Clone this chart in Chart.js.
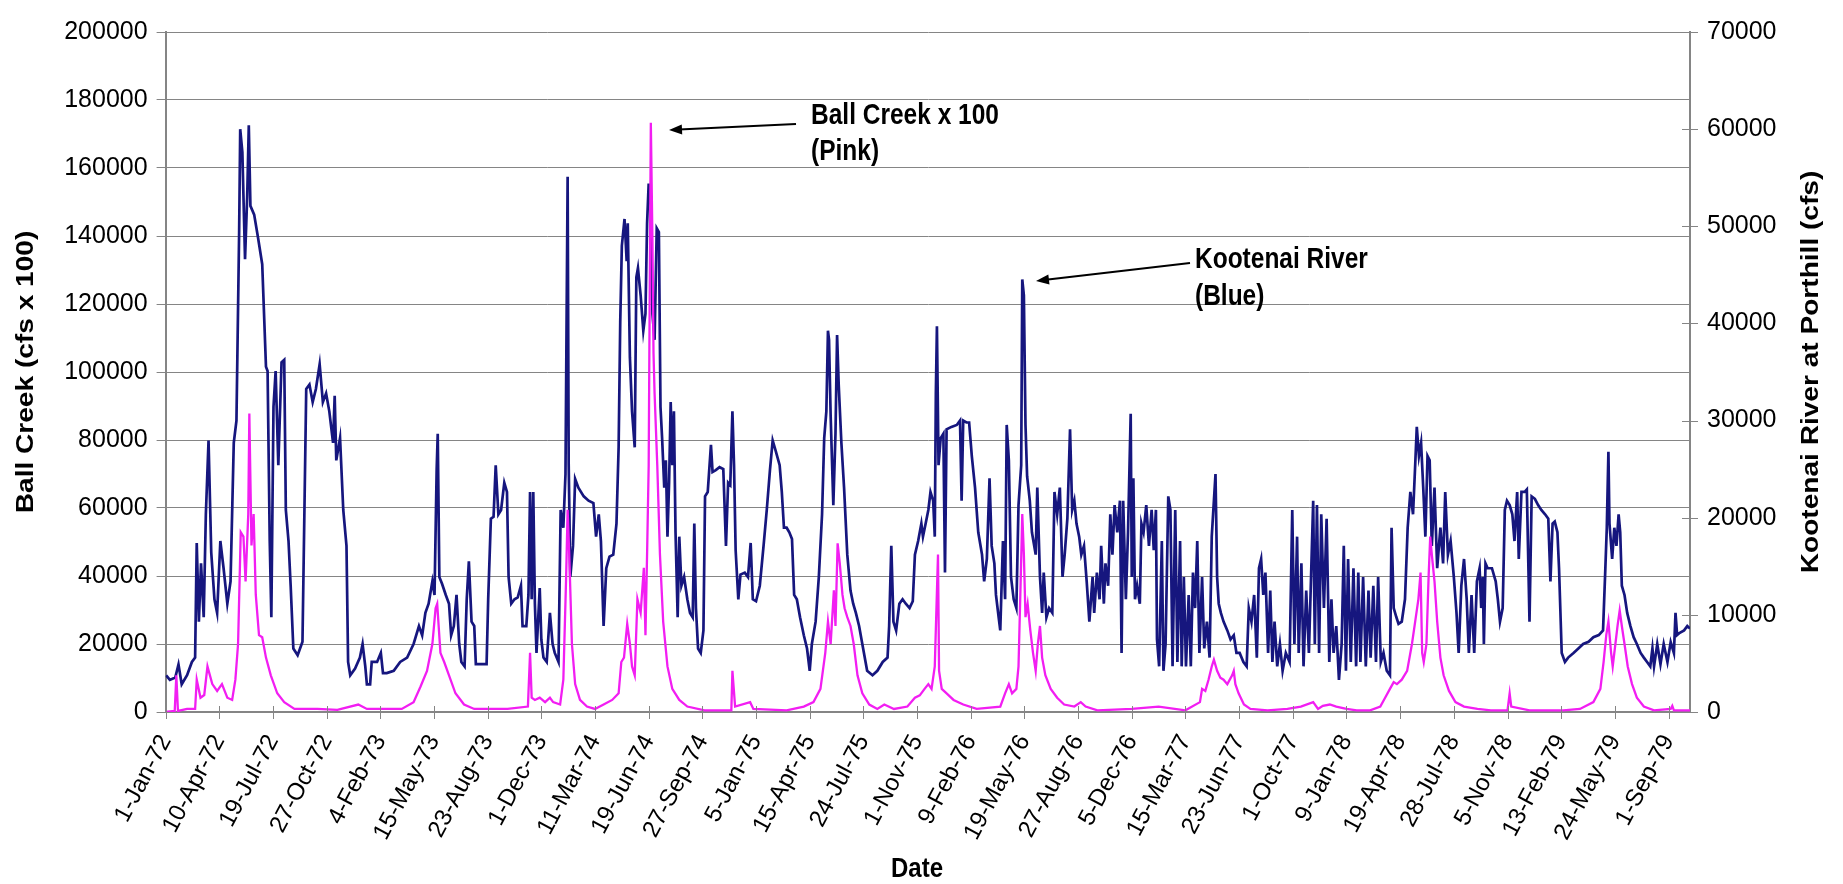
<!DOCTYPE html>
<html>
<head>
<meta charset="utf-8">
<script src="https://cdn.jsdelivr.net/npm/chart.js@4/dist/chart.umd.min.js"></script>
<style>
  html, body { margin: 0; padding: 0; background: #fff; }
  canvas { display: block; }
</style>
</head>
<body>
<canvas id="chart" width="1843" height="884"></canvas>
<script>
// Day 0 = 1-Jan-72, one label every 100 days
const dateLabels = [
  "1-Jan-72", "10-Apr-72", "19-Jul-72", "27-Oct-72", "4-Feb-73", "15-May-73", "23-Aug-73",
  "1-Dec-73", "11-Mar-74", "19-Jun-74", "27-Sep-74", "5-Jan-75", "15-Apr-75", "24-Jul-75",
  "1-Nov-75", "9-Feb-76", "19-May-76", "27-Aug-76", "5-Dec-76", "15-Mar-77", "23-Jun-77",
  "1-Oct-77", "9-Jan-78", "19-Apr-78", "28-Jul-78", "5-Nov-78", "13-Feb-79", "24-May-79", "1-Sep-79",
];
const lastDay = 2840;

// Kootenai River at Porthill, cfs (right axis) - [day, cfs]
const kootenai = [
  [1,3780],[8,3300],[18,3550],[24,4900],[30,2850],[40,3780],[49,5150],[55,5600],[58,17400],[62,9300],
  [66,15300],[71,9750],[75,20350],[80,27950],[85,16440],[91,11600],[96,10200],[102,17600],[108,14800],
  [115,11150],[121,13450],[127,27700],[132,30000],[137,49400],[139,60000],[143,57650],[148,46600],
  [152,53050],[155,60400],[158,52100],[165,51200],[172,48900],[180,46100],[187,35550],[190,35100],
  [194,17600],[197,9750],[201,31400],[205,35100],[210,25400],[216,36000],[221,36250],[224,20800],
  [229,17600],[233,13000],[238,6540],[246,5850],[255,7230],[262,33250],[268,33700],[274,31900],
  [280,33250],[287,35800],[293,31900],[299,32800],[305,30950],[312,27700],[315,32550],[318,25900],
  [325,28200],[331,20800],[337,17100],[340,5150],[344,3780],[353,4470],[362,5600],[367,7000],[372,4700],
  [375,2850],[381,2850],[384,5150],[394,5150],[401,6080],[405,4000],[412,4000],[425,4240],[437,5150],
  [450,5600],[462,7000],[472,8850],[478,7900],[484,10200],[490,11150],[497,13450],[501,12050],
  [505,24950],[507,28650],[510,13900],[515,13200],[522,12050],[528,11150],[532,7900],[537,8850],
  [542,12050],[547,7000],[551,5150],[557,4700],[561,11600],[565,15500],[570,9300],[575,8850],[578,4930],
  [587,4930],[598,4930],[601,11600],[606,19900],[611,20100],[615,25400],[620,20350],[625,20800],
  [631,23600],[636,22650],[639,13900],[644,11150],[650,11600],[656,11800],[662,13000],[665,8850],
  [672,8850],[676,12050],[679,22650],[682,11600],[685,22650],[688,11150],[691,6080],[697,12750],
  [700,7460],[704,5600],[710,5150],[716,10200],[721,7000],[725,6080],[732,5150],[736,20800],[741,18970],
  [745,24500],[749,55100],[751,25400],[754,13900],[759,17100],[763,24000],[769,23100],[779,22200],
  [788,21750],[797,21500],[802,18050],[807,20350],[811,17600],[816,8850],[821,14800],[827,16000],
  [834,16200],[840,19400],[844,27250],[847,40150],[850,48000],[855,50750],[859,46400],[861,50300],
  [865,36500],[869,30950],[874,27250],[877,44750],[880,45700],[885,42900],[890,39250],[894,41000],
  [897,50300],[900,54400],[904,52100],[907,41000],[911,38300],[915,49800],[919,49400],[922,31400],
  [925,28200],[929,23100],[932,25900],[935,18050],[938,23600],[941,31900],[944,25400],[947,30950],
  [950,18500],[954,9750],[957,18050],[961,13000],[966,13900],[972,11600],[977,10200],[982,9750],
  [985,19400],[988,10700],[992,6540],[997,6080],[1002,8400],[1005,22200],[1010,22650],[1016,27500],
  [1019,24700],[1025,24900],[1032,25200],[1039,25000],[1044,17100],[1048,23600],[1052,23350],
  [1056,30950],[1059,25400],[1062,16650],[1067,11600],[1071,14150],[1079,14350],[1085,13900],
  [1090,17400],[1094,11600],[1100,11400],[1107,13000],[1114,17100],[1120,20800],[1126,24950],
  [1131,27950],[1137,26800],[1144,25400],[1148,22650],[1152,18970],[1157,18970],[1162,18500],
  [1167,17800],[1171,12050],[1176,11600],[1182,9750],[1189,7900],[1195,6540],[1200,4240],[1204,7000],
  [1211,9300],[1217,13900],[1223,20350],[1227,28200],[1231,30950],[1234,39250],[1236,38300],
  [1239,30500],[1244,21300],[1248,28650],[1251,38800],[1254,33700],[1259,27700],[1264,23100],
  [1270,16200],[1276,12500],[1281,11150],[1286,10200],[1292,8850],[1298,7000],[1307,4240],[1317,3780],
  [1326,4240],[1336,5150],[1345,5600],[1348,8850],[1352,17100],[1356,9300],[1361,8400],[1367,11150],
  [1373,11600],[1379,11150],[1386,10700],[1392,11400],[1396,16200],[1402,17600],[1408,19400],
  [1411,18050],[1416,19400],[1421,20800],[1425,22650],[1430,21750],[1433,18050],[1435,32800],
  [1437,39700],[1440,25400],[1444,28200],[1449,28650],[1452,14350],[1455,29100],[1464,29350],
  [1474,29550],[1480,30000],[1483,21750],[1486,30000],[1492,29800],[1497,29800],[1502,26350],
  [1508,23100],[1514,18500],[1521,16200],[1525,13450],[1530,15750],[1535,24050],[1539,17100],
  [1544,15300],[1547,12050],[1552,9750],[1555,8400],[1560,17600],[1564,11600],[1567,29550],
  [1571,25900],[1575,13900],[1580,11600],[1585,10700],[1589,21300],[1594,25400],[1596,44530],
  [1599,42900],[1602,29550],[1605,24270],[1610,21750],[1614,18500],[1621,16200],[1624,23100],
  [1629,13900],[1633,10200],[1636,14350],[1641,9750],[1646,10700],[1652,10200],[1656,22650],
  [1661,20350],[1666,23100],[1671,13900],[1675,16200],[1680,19900],[1685,29100],[1689,20800],
  [1693,21750],[1697,19400],[1702,18050],[1706,16200],[1711,17100],[1716,13450],[1721,9300],
  [1724,11600],[1727,13900],[1730,10200],[1735,14350],[1740,11600],[1743,17100],[1748,11150],
  [1751,15300],[1756,13000],[1760,20350],[1764,16200],[1768,21300],[1773,18500],[1778,21750],
  [1781,6080],[1784,21750],[1789,11600],[1793,18500],[1798,30700],[1800,13900],[1803,24050],
  [1806,11600],[1810,13000],[1815,11150],[1818,19400],[1822,18500],[1827,21300],[1832,17100],
  [1837,20800],[1841,16650],[1845,20800],[1847,7460],[1851,4700],[1856,17600],[1859,4240],[1863,7000],
  [1868,22200],[1872,20800],[1876,4700],[1881,20800],[1885,5150],[1890,17600],[1893,4700],[1897,13900],
  [1901,4700],[1906,12050],[1910,4700],[1914,14350],[1918,10700],[1922,17600],[1926,6080],[1931,13900],
  [1935,6540],[1940,9300],[1945,5600],[1949,18050],[1953,21750],[1956,24500],[1959,13900],[1962,11150],
  [1966,10200],[1971,9300],[1978,8400],[1984,7460],[1990,7900],[1995,6080],[2001,6080],[2008,5150],
  [2014,4700],[2018,10700],[2023,9300],[2028,12050],[2033,5600],[2037,14800],[2041,15750],[2045,12050],
  [2049,14350],[2054,6080],[2058,12500],[2062,5150],[2066,9300],[2071,4700],[2076,7000],[2081,4240],
  [2087,6080],[2094,5150],[2099,20800],[2103,7000],[2108,18050],[2111,6080],[2116,15300],[2120,4700],
  [2125,12500],[2130,6080],[2134,13900],[2138,21750],[2141,7000],[2145,21300],[2149,6080],[2153,20350],
  [2158,10700],[2163,19900],[2168,5150],[2172,11600],[2176,6080],[2181,8850],[2186,3300],[2191,7000],
  [2195,17100],[2199,4240],[2203,15750],[2208,5150],[2213,14800],[2218,4700],[2222,14350],[2226,5150],
  [2231,13900],[2236,4700],[2241,12500],[2245,5600],[2250,13000],[2255,5150],[2259,13900],[2264,5150],
  [2269,6080],[2275,4240],[2281,3780],[2284,18970],[2288,10700],[2293,9750],[2297,9070],[2303,9300],
  [2309,11600],[2314,18970],[2319,22650],[2324,20350],[2328,25400],[2331,29350],[2335,26350],
  [2339,27700],[2343,23100],[2347,18050],[2351,26350],[2355,25900],[2359,17100],[2364,23100],
  [2369,14800],[2375,18970],[2380,15300],[2384,22650],[2389,16200],[2394,17600],[2400,13900],
  [2405,10200],[2409,6080],[2414,13000],[2419,15750],[2424,11600],[2428,6080],[2433,12050],[2438,6080],
  [2443,13450],[2448,14800],[2451,10700],[2454,13900],[2456,7000],[2459,15300],[2463,14800],[2471,14800],
  [2478,13450],[2482,11600],[2486,9300],[2491,10700],[2495,20800],[2499,21750],[2504,21300],[2509,20350],
  [2513,17600],[2518,22650],[2521,15750],[2526,22650],[2532,22650],[2536,22900],[2541,9300],[2545,22200],
  [2551,21950],[2557,21300],[2563,20800],[2570,20350],[2576,19900],[2580,13450],[2584,19400],[2588,19600],
  [2593,18500],[2596,14800],[2601,6080],[2607,5150],[2613,5600],[2623,6080],[2632,6540],[2641,7000],
  [2651,7230],[2660,7700],[2670,7920],[2678,8400],[2682,14350],[2685,18970],[2688,26800],[2690,19400],
  [2695,15750],[2699,18970],[2703,17100],[2707,20350],[2710,18500],[2713,13000],[2718,12050],
  [2723,10200],[2729,8850],[2735,7700],[2741,7000],[2748,6080],[2754,5600],[2760,5150],[2766,4700],
  [2770,6540],[2773,4700],[2779,7000],[2785,4930],[2791,7000],[2798,5150],[2804,7200],[2810,6080],
  [2813,10200],[2816,7920],[2821,8150],[2829,8400],[2835,8850],[2840,8600],
];

// Ball Creek, cfs x 100 (left axis) - [day, value]
const ballCreek = [
  [0,0],[17,300],[20,10800],[23,300],[40,900],[55,900],[58,9500],[65,4200],[72,5000],[78,13400],
  [87,8200],[96,6200],[105,8200],[115,4200],[124,3550],[130,9500],[135,20000],[140,52900],[145,51600],
  [149,38400],[154,58200],[156,87800],[160,49000],[164,58200],[168,34500],[174,22600],[180,22000],
  [187,16000],[196,10800],[208,5500],[221,2900],[240,900],[283,900],[320,600],[359,2200],[375,900],
  [440,900],[462,2900],[475,7500],[487,12100],[497,20000],[503,30500],[506,31800],[512,17400],
  [519,14700],[528,10800],[540,5500],[556,2200],[575,900],[637,900],[675,1600],[679,17400],[682,4200],
  [688,3550],[697,4200],[707,2900],[716,4200],[722,2900],[735,2200],[741,9500],[746,38400],[749,59500],
  [752,46300],[757,20000],[763,8200],[772,3550],[785,1600],[800,900],[816,2200],[832,3550],[844,5500],
  [849,14700],[854,16000],[860,25900],[865,20000],[869,13400],[874,10800],[879,33200],[885,29200],
  [891,42400],[894,22600],[897,46300],[900,72600],[902,125300],[904,173300],[907,138400],[909,105500],
  [911,93700],[916,72600],[921,46300],[927,26600],[935,13400],[944,6800],[957,3550],[972,1600],
  [1004,500],[1054,500],[1056,12100],[1061,1600],[1089,2900],[1095,900],[1157,500],[1189,1600],
  [1207,2900],[1220,6800],[1229,17400],[1234,26600],[1239,20000],[1245,35800],[1248,25300],
  [1252,49600],[1256,43700],[1261,34500],[1265,30500],[1270,27900],[1276,25300],[1282,20000],
  [1289,10800],[1298,5500],[1311,2200],[1326,900],[1339,2200],[1357,900],[1382,1600],[1396,4200],
  [1405,4900],[1414,6800],[1421,8200],[1427,6800],[1433,13400],[1436,30000],[1439,46300],[1441,12100],
  [1446,6800],[1455,5500],[1468,3550],[1486,2200],[1511,900],[1555,1600],[1564,5500],[1571,8200],
  [1577,5500],[1585,6800],[1589,13400],[1593,38400],[1596,58200],[1599,46300],[1602,27900],
  [1606,31800],[1611,24000],[1616,17400],[1621,12100],[1625,20000],[1629,25300],[1633,16000],
  [1639,10800],[1649,6800],[1661,4200],[1674,2200],[1693,1600],[1705,2900],[1714,1600],[1736,500],
  [1800,900],[1850,1600],[1900,500],[1927,2900],[1931,6800],[1937,6200],[1943,9500],[1949,13400],
  [1953,15400],[1959,12100],[1965,10100],[1971,9500],[1978,8200],[1987,10800],[1990,12100],[1993,8200],
  [1999,5500],[2009,2200],[2021,900],[2053,500],[2090,900],[2115,1600],[2138,2900],[2147,900],
  [2156,1840],[2169,2200],[2181,1600],[2200,900],[2219,500],[2244,500],[2263,1600],[2272,4200],
  [2281,6800],[2288,8800],[2294,8200],[2303,9500],[2313,12100],[2322,20000],[2328,26600],[2334,33200],
  [2338,41000],[2341,17400],[2344,14700],[2349,20000],[2353,39700],[2356,51600],[2359,46300],
  [2364,38400],[2369,26600],[2375,16000],[2381,10800],[2391,6200],[2403,2900],[2419,1600],[2444,900],
  [2469,500],[2500,500],[2504,5500],[2507,1600],[2541,500],[2604,500],[2635,900],[2660,2900],
  [2673,6800],[2679,14700],[2684,22600],[2688,26600],[2693,17400],[2696,13400],[2701,20000],
  [2705,25300],[2709,29900],[2713,25300],[2718,20000],[2724,13400],[2732,8200],[2741,4200],[2754,1600],
  [2773,500],[2804,900],[2807,1800],[2810,500],[2840,500],
];

const FONT = "'Liberation Sans', Arial, sans-serif";
const GRID = "#858585";
const STRETCH = 1.17; // the picture is a little taller than the original chart

const toPoints = (pairs) => pairs.map(([x, y]) => ({ x, y }));

// text drawn with the same vertical stretch the reference has
const stretchedText = (ctx, text, x, y, { rotate = 0, align = "center", bold = true, size = 24 } = {}) => {
  ctx.save();
  ctx.translate(x, y);
  if (rotate) {
    ctx.rotate(rotate);
    ctx.scale(STRETCH, 1);
  } else {
    ctx.scale(1, STRETCH);
  }
  ctx.font = `${bold ? "bold " : ""}${size}px ${FONT}`;
  ctx.textAlign = align;
  ctx.textBaseline = "middle";
  ctx.fillStyle = "#000";
  ctx.fillText(text, 0, 0);
  ctx.restore();
};

const arrow = (ctx, x1, y1, x2, y2) => {
  const a = Math.atan2(y2 - y1, x2 - x1);
  ctx.save();
  ctx.strokeStyle = "#000";
  ctx.fillStyle = "#000";
  ctx.lineWidth = 2;
  ctx.beginPath();
  ctx.moveTo(x1, y1);
  ctx.lineTo(x2 - 10 * Math.cos(a), y2 - 10 * Math.sin(a));
  ctx.stroke();
  ctx.beginPath();
  ctx.moveTo(x2, y2);
  ctx.lineTo(x2 - 13 * Math.cos(a) + 5 * Math.sin(a), y2 - 13 * Math.sin(a) - 5 * Math.cos(a));
  ctx.lineTo(x2 - 13 * Math.cos(a) - 5 * Math.sin(a), y2 - 13 * Math.sin(a) + 5 * Math.cos(a));
  ctx.closePath();
  ctx.fill();
  ctx.restore();
};

const overlay = {
  id: "overlay",
  afterDraw(chart) {
    const { ctx, chartArea: area, scales } = chart;
    ctx.save();
    ctx.strokeStyle = GRID;
    ctx.lineWidth = 1;
    // tick marks crossing the right axis
    for (const t of scales.y2.ticks) {
      const py = Math.round(scales.y2.getPixelForValue(t.value)) + 0.5;
      ctx.beginPath();
      ctx.moveTo(area.right - 8, py);
      ctx.lineTo(area.right + 8, py);
      ctx.stroke();
    }
    // tick marks crossing the date axis
    for (let i = 0; i < dateLabels.length; i++) {
      const px = Math.round(scales.x.getPixelForValue(i * 100)) + 0.5;
      ctx.beginPath();
      ctx.moveTo(px, area.bottom - 6);
      ctx.lineTo(px, area.bottom + 7);
      ctx.stroke();
    }
    ctx.restore();

    // axis titles
    stretchedText(ctx, "Ball Creek (cfs x 100)", 26, (area.top + area.bottom) / 2, { rotate: -Math.PI / 2 });
    stretchedText(ctx, "Kootenai River at Porthill (cfs)", 1811, (area.top + area.bottom) / 2, { rotate: -Math.PI / 2 });
    stretchedText(ctx, "Date", 917, 869);

    // annotations
    stretchedText(ctx, "Ball Creek x 100", 811, 116, { align: "left", size: 24.5 });
    stretchedText(ctx, "(Pink)", 811, 152, { align: "left", size: 24.5 });
    arrow(ctx, 796, 124, 669, 130);
    stretchedText(ctx, "Kootenai River", 1195, 260, { align: "left", size: 24.5 });
    stretchedText(ctx, "(Blue)", 1195, 297, { align: "left", size: 24.5 });
    arrow(ctx, 1190, 263, 1036, 281);
  },
};

new Chart(document.getElementById("chart"), {
  type: "line",
  data: {
    datasets: [
      {
        label: "Ball Creek x 100",
        data: toPoints(ballCreek),
        yAxisID: "y",
        borderColor: "#f21ef2",
        borderWidth: 2.3,
        pointRadius: 0,
        tension: 0,
      },
      {
        label: "Kootenai River",
        data: toPoints(kootenai),
        yAxisID: "y2",
        borderColor: "#16167e",
        borderWidth: 2.7,
        pointRadius: 0,
        tension: 0,
      },
    ],
  },
  options: {
    responsive: false,
    devicePixelRatio: 1,
    animation: false,
    layout: { padding: { left: 0, right: 0, top: 24, bottom: 0 } },
    plugins: {
      legend: { display: false },
      tooltip: { enabled: false },
    },
    scales: {
      x: {
        type: "linear",
        min: 0,
        max: lastDay,
        afterFit: (scale) => { scale.height = 172; },
        grid: { display: false },
        border: { display: true, color: GRID, width: 2 },
        ticks: {
          stepSize: 100,
          maxTicksLimit: 40,
          includeBounds: false,
          autoSkip: false,
          minRotation: 62,
          maxRotation: 62,
          padding: 10,
          color: "#000",
          font: { family: FONT, size: 24 },
          callback: (v) => (v % 100 === 0 ? dateLabels[v / 100] : ""),
        },
      },
      y: {
        position: "left",
        min: 0,
        max: 200000,
        afterFit: (scale) => { scale.width = 165.6; },
        grid: { color: GRID, lineWidth: 1, tickLength: 9 },
        border: { display: true, color: GRID, width: 2 },
        ticks: {
          stepSize: 20000,
          padding: 9,
          color: "#000",
          font: { family: FONT, size: 25 },
          callback: (v) => String(v),
        },
      },
      y2: {
        position: "right",
        min: 0,
        max: 70000,
        afterFit: (scale) => { scale.width = 1843 - 1690; },
        grid: { drawOnChartArea: false, drawTicks: false },
        border: { display: true, color: GRID, width: 2 },
        ticks: {
          stepSize: 10000,
          padding: 17,
          color: "#000",
          font: { family: FONT, size: 25 },
          callback: (v) => String(v),
        },
      },
    },
  },
  plugins: [overlay],
});
</script>
</body>
</html>
